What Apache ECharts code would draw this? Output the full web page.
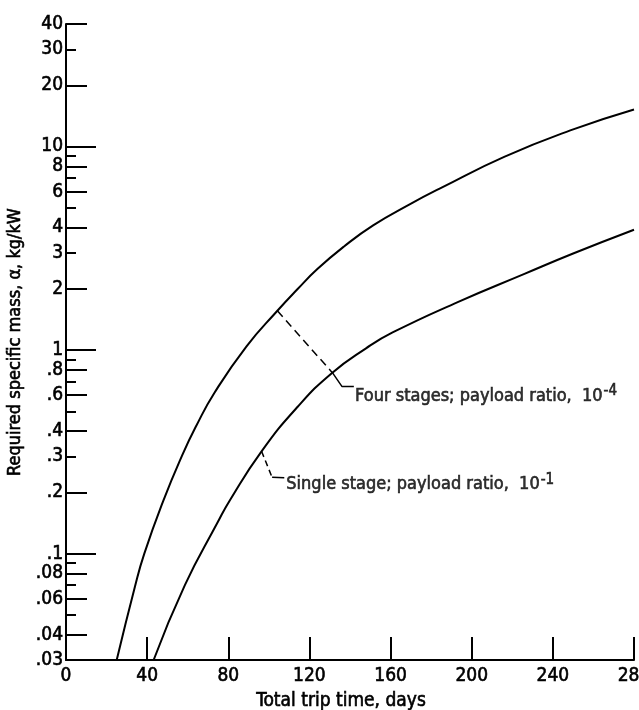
<!DOCTYPE html>
<html>
<head>
<meta charset="utf-8">
<title>Required specific mass vs total trip time</title>
<script src="https://cdn.jsdelivr.net/npm/echarts@6/dist/echarts.min.js"></script>
<style>
  html, body { margin: 0; padding: 0; background: #fff; }
  #chart { width: 639px; height: 710px; }
</style>
</head>
<body>
<div id="chart"></div>
<script>
// four stages, payload ratio 1e-4 (upper curve)
var fourX = [25, 34, 38.6, 47.9, 57.2, 64.3, 73.2, 88.9, 104.2, 114.3, 123.9, 136.9, 151.4, 169.4, 185.4, 216, 248.6, 280]
var fourY = [0.03, 0.069, 0.1, 0.181, 0.303, 0.426, 0.617, 1.04, 1.56, 2.0, 2.5, 3.22, 4.1, 5.2, 6.3, 8.9, 12.0, 15.2]
// single stage, payload ratio 1e-1 (lower curve)
var singleX = [43.2, 58.6, 74.7, 80.8, 96.4, 114.1, 131, 147.9, 161, 193.1, 225.7, 250, 280]
var singleY = [0.03, 0.070, 0.142, 0.183, 0.318, 0.525, 0.77, 1.02, 1.22, 1.72, 2.36, 2.98, 3.9]

// leader lines and label anchors (data coordinates)
var fourLeaderDash = [[104.2, 1.56], [131.5, 0.77]]
var fourLeaderSolid = [[131.5, 0.77], [136, 0.663], [141.9, 0.663]]
var singleLeaderDash = [[96.4, 0.318], [101.6, 0.237]]
var singleLeaderSolid = [[101.6, 0.237], [107.6, 0.236]]
var fourLabelAt = [142.5, 0.595]
var singleLabelAt = [108.6, 0.218]

// axis ticks
var xLabels = [0, 40, 80, 120, 160, 200, 240, 280]
var xTicks = [40, 80, 120, 160, 200, 240, 280]
var yLabels = [40, 30, 20, 10, 8, 6, 4, 3, 2, 1, 0.8, 0.6, 0.4, 0.3, 0.2, 0.1, 0.08, 0.06, 0.04, 0.03]
var yTicksLong = [10, 1, 0.1]
var yTicksMid = [40, 20, 8, 6, 4, 2, 0.8, 0.6, 0.4, 0.2, 0.08, 0.06, 0.04]
var yTicksShort = [30, 9, 7, 5, 3, 0.9, 0.7, 0.5, 0.3, 0.09, 0.07, 0.05]

var FONT = '"Liberation Sans Narrow", "DejaVu Sans Condensed", "Liberation Sans", sans-serif'
var INK = '#000'
// thin outline in the same colour, the lettering on the scan is heavier than the regular face
var HEAVY = { textBorderColor: INK, textBorderWidth: 0.6 }

function zip(xs, ys) {
	var out = []
	for (var i = 0; i < xs.length; i++) out.push([xs[i], ys[i]])
	return out
}

function yFmt(v) {
	var s = String(+(+v).toPrecision(3))
	return s.replace(/^0\./, '.')
}

function logAxis(ticks, len, showLine, showLabel) {
	return {
		type: 'log',
		logBase: 10,
		position: 'left',
		offset: 0,
		min: 0.03,
		max: 40,
		splitLine: { show: false },
		axisLine: { show: showLine, lineStyle: { color: INK, width: 2 } },
		axisTick: {
			show: true,
			inside: true,
			length: len,
			customValues: ticks,
			lineStyle: { color: INK, width: 2 }
		},
		axisLabel: Object.assign({
			show: showLabel,
			customValues: yLabels,
			formatter: yFmt,
			margin: 3,
			color: INK,
			fontFamily: FONT,
			fontSize: 19
		}, HEAVY)
	}
}

var chart = echarts.init(document.getElementById('chart'), null, { renderer: 'canvas' })

var yMain = logAxis(yTicksMid, 21, true, true)
yMain.name = 'Required specific mass, \u03b1, kg/kW'
yMain.nameLocation = 'middle'
yMain.nameGap = 37
yMain.nameTextStyle = Object.assign({ color: INK, fontFamily: FONT, fontSize: 18 }, HEAVY)

var lineBase = {
	type: 'line',
	showSymbol: false,
	symbol: 'none',
	animation: false,
	silent: true
}

chart.setOption({
	backgroundColor: '#fff',
	animation: false,
	grid: { left: 66, top: 24, width: 568, height: 636, outerBoundsMode: 'none', containLabel: false },
	xAxis: {
		type: 'value',
		min: 0,
		max: 280,
		interval: 40,
		name: 'Total trip time, days',
		nameLocation: 'middle',
		nameGap: 27,
		nameTextStyle: Object.assign({ color: INK, fontFamily: FONT, fontSize: 19, padding: [0, 18, 0, 0] }, HEAVY),
		splitLine: { show: false },
		axisLine: { lineStyle: { color: INK, width: 2 } },
		axisTick: {
			inside: true,
			length: 23,
			customValues: xTicks,
			lineStyle: { color: INK, width: 2 }
		},
		axisLabel: Object.assign({
			customValues: xLabels,
			margin: 7,
			color: INK,
			fontFamily: FONT,
			fontSize: 19
		}, HEAVY)
	},
	yAxis: [
		yMain,
		logAxis(yTicksLong, 30, false, false),
		logAxis(yTicksShort, 10, false, false)
	],
	series: [
		Object.assign({}, lineBase, {
			name: 'Four stages',
			data: zip(fourX, fourY),
			smooth: 0.5,
			lineStyle: { color: INK, width: 2 }
		}),
		Object.assign({}, lineBase, {
			name: 'Single stage',
			data: zip(singleX, singleY),
			smooth: 0.5,
			lineStyle: { color: INK, width: 2 }
		}),
		Object.assign({}, lineBase, {
			data: fourLeaderDash,
			lineStyle: { color: INK, width: 1.5, type: [8, 5] }
		}),
		Object.assign({}, lineBase, {
			data: fourLeaderSolid,
			lineStyle: { color: INK, width: 1.5 }
		}),
		Object.assign({}, lineBase, {
			data: singleLeaderDash,
			lineStyle: { color: INK, width: 1.5, type: [6, 4] }
		}),
		Object.assign({}, lineBase, {
			data: singleLeaderSolid,
			lineStyle: { color: INK, width: 1.5 }
		}),
		{
			type: 'scatter',
			symbolSize: 0,
			silent: true,
			animation: false,
			data: [
				{ value: fourLabelAt, label: { formatter: 'Four stages; payload ratio,  10{sup|-4}' } },
				{ value: singleLabelAt, label: { formatter: 'Single stage; payload ratio,  10{sup|-1}' } }
			],
			label: Object.assign({
				show: true,
				position: 'right',
				distance: 0,
				color: INK,
				fontFamily: FONT,
				fontSize: 18,
				lineHeight: 24,
				rich: {
					sup: Object.assign({ fontFamily: FONT, fontSize: 15, color: INK, verticalAlign: 'top', lineHeight: 24, padding: [0, 0, 12, 1] }, HEAVY)
				}
			}, HEAVY)
		}
	]
})
</script>
</body>
</html>
